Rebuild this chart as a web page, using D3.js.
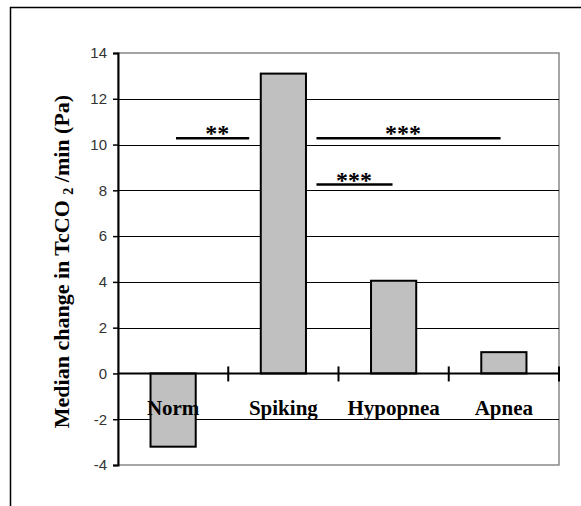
<!DOCTYPE html>
<html>
<head>
<meta charset="utf-8">
<script src="https://cdn.jsdelivr.net/npm/d3@7"></script>
<style>
  html, body { margin: 0; padding: 0; background: #fff; }
  svg { display: block; }
</style>
</head>
<body>
<script>
// ---- data ----
const categories = ["Norm", "Spiking", "Hypopnea", "Apnea"];
const values = [-3.2, 13.1, 4.05, 0.93];
const yTicks = [-4, -2, 0, 2, 4, 6, 8, 10, 12, 14];
// significance brackets: x in category-slot units (0 = left edge, 4 = right edge), y in data units
const sigFrom = [0.526, 1.80, 1.80];
const sigTo = [1.19, 3.47, 2.49];
const sigY = [10.28, 10.28, 8.25];
const sigLabelX = [0.90, 2.585, 2.14];
const sigLabels = ["**", "***", "***"];

const W = 581, H = 506;
const plot = { left: 118, right: 559, top: 53, bottom: 465 };

const svg = d3.select("body").append("svg").attr("width", W).attr("height", H);
svg.append("rect").attr("width", W).attr("height", H).attr("fill", "#fff");

// outer frame (top and left lines)
svg.append("path").attr("d", `M10.5,${H} V7.5 H${W}`).attr("fill", "none").attr("stroke", "#000").attr("stroke-width", 1.5);

const y = d3.scaleLinear().domain([-4, 14]).range([plot.bottom, plot.top]);
const x = d3.scaleBand().domain(categories).range([plot.left, plot.right]).padding(0);
const xs = d3.scaleLinear().domain([0, categories.length]).range([plot.left, plot.right]);
const barW = x.bandwidth() * 0.41;

// plot area border (grey)
svg.append("rect")
  .attr("x", plot.left).attr("y", plot.top)
  .attr("width", plot.right - plot.left).attr("height", plot.bottom - plot.top)
  .attr("fill", "none").attr("stroke", "#888").attr("stroke-width", 1.5);

// gridlines
svg.append("g").selectAll("line")
  .data(yTicks.filter(t => t !== -4 && t !== 14 && t !== 0))
  .join("line")
  .attr("x1", plot.left).attr("x2", plot.right)
  .attr("y1", d => Math.round(y(d)) + 0.5).attr("y2", d => Math.round(y(d)) + 0.5)
  .attr("stroke", "#000").attr("stroke-width", 1);

// y axis
const yAxis = d3.axisLeft(y).tickValues(yTicks).tickSize(5).tickPadding(6)
  .tickFormat(d => String(d));
const gy = svg.append("g").attr("transform", `translate(${plot.left},0)`).call(yAxis);
gy.select(".domain").attr("stroke", "#000").attr("stroke-width", 2);
gy.selectAll(".tick line").attr("stroke", "#000").attr("stroke-width", 1.5);
gy.selectAll(".tick text")
  .attr("font-family", "Liberation Sans, Arial, sans-serif")
  .attr("font-size", 15).attr("fill", "#333");

// bars
svg.append("g").selectAll("rect")
  .data(categories.map((c, i) => ({ c, v: values[i] })))
  .join("rect")
  .attr("x", d => x(d.c) + (x.bandwidth() - barW) / 2)
  .attr("width", barW)
  .attr("y", d => y(Math.max(0, d.v)))
  .attr("height", d => Math.abs(y(d.v) - y(0)))
  .attr("fill", "#c0c0c0").attr("stroke", "#000").attr("stroke-width", 2);

// x axis at zero
const xAxisLine = svg.append("g");
xAxisLine.append("line")
  .attr("x1", plot.left).attr("x2", plot.right)
  .attr("y1", y(0)).attr("y2", y(0))
  .attr("stroke", "#000").attr("stroke-width", 2);
xAxisLine.selectAll("line.tk")
  .data(d3.range(1, categories.length + 1))
  .join("line").attr("class", "tk")
  .attr("x1", d => xs(d)).attr("x2", d => xs(d))
  .attr("y1", y(0) - 7).attr("y2", y(0) + 8)
  .attr("stroke", "#000").attr("stroke-width", 2);

// category labels
svg.append("g").selectAll("text")
  .data(categories)
  .join("text")
  .attr("x", d => x(d) + x.bandwidth() / 2)
  .attr("y", 415)
  .attr("text-anchor", "middle")
  .attr("font-family", "Liberation Serif, Times New Roman, serif")
  .attr("font-weight", "bold").attr("font-size", 21)
  .attr("fill", "#000")
  .text(d => d);

// significance brackets
const sig = svg.append("g");
sigLabels.forEach((lab, i) => {
  sig.append("line")
    .attr("x1", xs(sigFrom[i])).attr("x2", xs(sigTo[i]))
    .attr("y1", y(sigY[i])).attr("y2", y(sigY[i]))
    .attr("stroke", "#000").attr("stroke-width", 2.5);
  sig.append("text")
    .attr("x", xs(sigLabelX[i])).attr("y", y(sigY[i]) + 3)
    .attr("text-anchor", "middle")
    .attr("font-family", "Liberation Serif, Times New Roman, serif")
    .attr("font-weight", "bold").attr("font-size", 24)
    .attr("fill", "#000")
    .text(lab);
});

// y axis title
const title = svg.append("text")
  .attr("transform", `translate(69,${(85 + 438) / 2}) rotate(-90)`)
  .attr("text-anchor", "middle")
  .attr("font-family", "Liberation Serif, Times New Roman, serif")
  .attr("font-weight", "bold").attr("font-size", 22)
  .attr("fill", "#000");
title.append("tspan").text("Median change in TcCO ");
title.append("tspan").attr("font-size", 14).attr("dy", 4).text("2");
title.append("tspan").attr("dy", -4).text(" /min (Pa)");
</script>
</body>
</html>
